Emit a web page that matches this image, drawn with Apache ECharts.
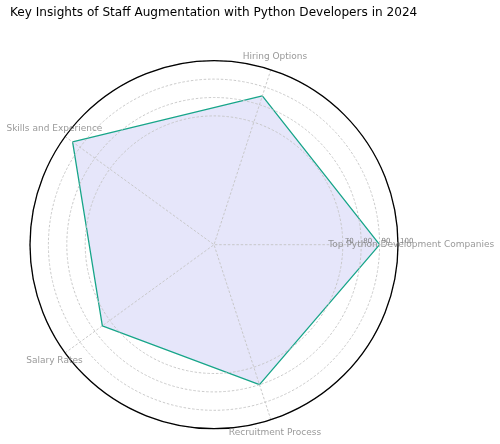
<!DOCTYPE html>
<html><head><meta charset="utf-8">
<script src="https://cdn.jsdelivr.net/npm/echarts@6/dist/echarts.min.js"></script>
<style>html,body{margin:0;padding:0;background:#fff}#c{width:500px;height:444px}</style>
</head><body><div id="c"></div>
<script>
const categories = ['Top Python Development Companies','Hiring Options','Skills and Experience','Salary Rates','Recruitment Process'];
const values = [90, 85, 95, 75, 80];
const radialTicks = [70, 80, 90, 100];

const step = 360 / categories.length;
const seriesData = categories.map((c, i) => [values[i], i * step]);
seriesData.push([values[0], 360]);
const LABEL_R = 107.2; // label ring just outside the max of the radial scale
const labelData = categories.map((c, i) => ({value: [LABEL_R, i * step], name: c}));

const chart = echarts.init(document.getElementById('c'), null, {renderer: 'canvas'});
chart.setOption({
  backgroundColor: '#fff',
  animation: false,
  title: {
    text: 'Key Insights of Staff Augmentation with Python Developers in 2024',
    left: 5, top: 2,
    textStyle: {fontFamily: 'DejaVu Sans', fontSize: 12.1, fontWeight: 'normal', color: '#000'}
  },
  polar: {center: [214, 244.7], radius: 184},
  angleAxis: {
    type: 'value', min: 0, max: 360, interval: step,
    startAngle: 0, clockwise: false,
    axisLine: {show: true, lineStyle: {color: '#000', width: 1.3}},
    axisTick: {show: false},
    axisLabel: {show: false},
    splitLine: {show: true, lineStyle: {color: '#c4c4c4', type: [2.5, 1.8], width: 0.9}},
    z: 6
  },
  radiusAxis: {
    type: 'value', min: 0, max: 100,
    axisLine: {show: false},
    axisTick: {show: false, customValues: radialTicks},
    axisLabel: {
      show: true, customValues: radialTicks, margin: 0,
      align: 'left', verticalAlign: 'bottom', padding: [0, 0, 0, 2],
      formatter: v => (radialTicks.indexOf(Number(v)) >= 0 ? String(v) : ''),
      fontFamily: 'DejaVu Sans', fontSize: 7, color: '#808080'
    },
    splitLine: {show: true, lineStyle: {color: '#c4c4c4', type: [2.5, 1.8], width: 0.9}},
    z: 5
  },
  series: [{
    type: 'line', coordinateSystem: 'polar',
    data: seriesData,
    symbol: 'none',
    lineStyle: {color: '#17a589', width: 1.3},
    areaStyle: {color: '#e6e6fa', opacity: 1, origin: 'start'},
    z: 1
  }, {
    type: 'scatter', coordinateSystem: 'polar',
    data: labelData,
    symbol: 'circle',
    symbolSize: 1,
    clip: false,
    silent: true,
    itemStyle: {color: 'rgba(0,0,0,0)'},
    label: {
      show: true, position: 'inside', formatter: p => p.name,
      fontFamily: 'DejaVu Sans', fontSize: 9, color: '#808080',
      align: 'center', verticalAlign: 'middle'
    },
    labelLayout: {hideOverlap: false},
    z: 7
  }]
});
</script></body></html>
